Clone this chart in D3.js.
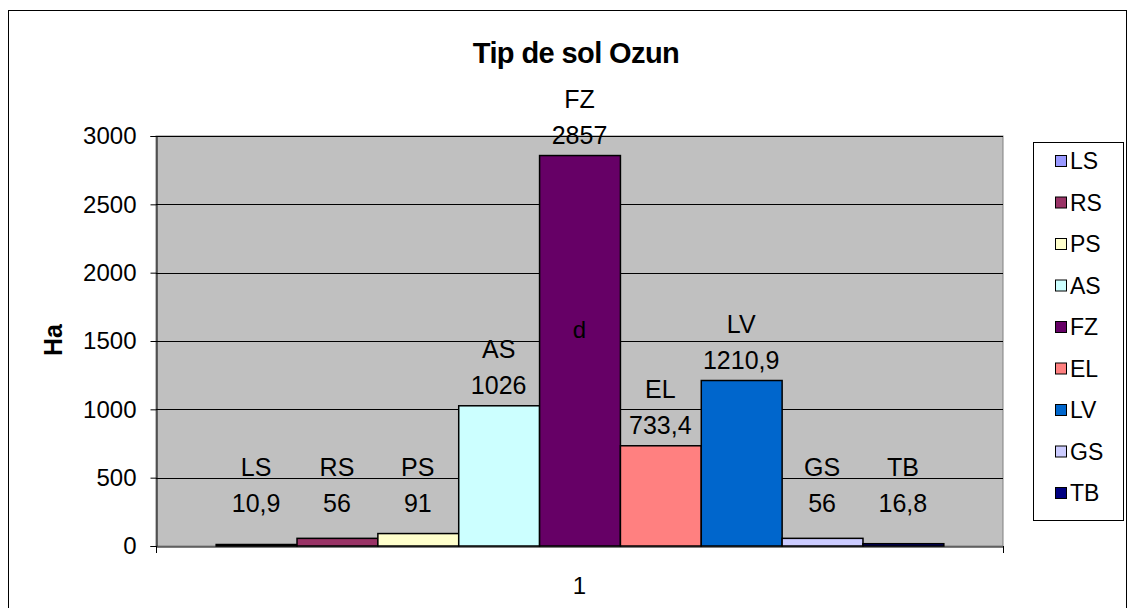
<!DOCTYPE html>
<html>
<head>
<meta charset="utf-8">
<script src="https://cdn.jsdelivr.net/npm/d3@7/dist/d3.min.js"></script>
<style>
  body { margin: 0; background: #fff; }
  svg { display: block; font-family: "Liberation Sans", Arial, sans-serif; }
</style>
</head>
<body>
<svg id="chart" width="1128" height="608"></svg>
<script>
// --- data ---
const categories = ["LS", "RS", "PS", "AS", "FZ", "EL", "LV", "GS", "TB"];
const values = [10.9, 56, 91, 1026, 2857, 733.4, 1210.9, 56, 16.8];
const valueLabels = ["10,9", "56", "91", "1026", "2857", "733,4", "1210,9", "56", "16,8"];
const colors = ["#9999FF", "#993366", "#FFFFCC", "#CCFFFF", "#660066", "#FF8080", "#0066CC", "#CCCCFF", "#000080"];
const yTicks = [0, 500, 1000, 1500, 2000, 2500, 3000];
const xCategory = ["1"];

// --- layout ---
const svg = d3.select("#chart");
const plot = { left: 156, right: 1003, top: 136, bottom: 546 };
const FONT = "'Liberation Sans', Arial, sans-serif";

svg.append("rect").attr("x", 8.5).attr("y", 10.5).attr("width", 1118).attr("height", 620)
  .attr("fill", "#fff").attr("stroke", "#000").attr("stroke-width", 1);

const y = d3.scaleLinear().domain([0, 3000]).range([plot.bottom, plot.top]);
const x0 = d3.scaleBand().domain(xCategory).range([plot.left, plot.right]).paddingInner(0).paddingOuter(0.082);
const x1 = d3.scaleBand().domain(categories).range([x0("1"), x0("1") + x0.bandwidth()]).padding(0);

// plot area
svg.append("rect").attr("x", plot.left).attr("y", plot.top)
  .attr("width", plot.right - plot.left).attr("height", plot.bottom - plot.top)
  .attr("fill", "#C0C0C0").attr("stroke", "#808080").attr("stroke-width", 1);

// gridlines
svg.append("g").selectAll("line").data(yTicks.filter(d => d > 0)).enter().append("line")
  .attr("x1", plot.left).attr("x2", plot.right)
  .attr("y1", d => Math.round(y(d)) + 0.5).attr("y2", d => Math.round(y(d)) + 0.5)
  .attr("stroke", "#000").attr("stroke-width", 1);

// y axis
const yAxis = svg.append("g").attr("transform", `translate(${plot.left + 0.5},0)`)
  .call(d3.axisLeft(y).tickValues(yTicks).tickSize(6).tickPadding(14).tickFormat(d3.format("d")));
yAxis.select(".domain").attr("stroke", "#000");
yAxis.selectAll("text").attr("font-size", "24px").attr("fill", "#000").attr("font-family", FONT);
yAxis.selectAll("line").attr("stroke", "#000");

// x axis
const xAxis = svg.append("g").attr("transform", `translate(0,${plot.bottom + 0.5})`)
  .call(d3.axisBottom(x0).tickSize(0).tickPadding(30));
xAxis.select(".domain").attr("stroke", "#000");
xAxis.selectAll("text").attr("font-size", "24px").attr("fill", "#000").attr("font-family", FONT);
[plot.left, plot.right].forEach(px => {
  svg.append("line").attr("x1", px + 0.5).attr("x2", px + 0.5)
    .attr("y1", plot.bottom).attr("y2", plot.bottom + 7).attr("stroke", "#000");
});

// bars
const rows = categories.map((c, i) => ({ c, v: values[i], lab: valueLabels[i], col: colors[i] }));
svg.append("g").selectAll("rect").data(rows).enter().append("rect")
  .attr("x", d => x1(d.c) + 0.5)
  .attr("y", d => y(d.v))
  .attr("width", x1.bandwidth())
  .attr("height", d => plot.bottom - y(d.v))
  .attr("fill", d => d.col).attr("stroke", "#000").attr("stroke-width", 1.5);

// data labels (name + value), baseline positions
const labY = d => Math.min(y(d.v) - 12, 512);
const lab = svg.append("g").attr("font-size", "25px").attr("text-anchor", "middle").attr("fill", "#000");
lab.selectAll(".nm").data(rows).enter().append("text")
  .attr("x", d => x1(d.c) + x1.bandwidth() / 2).attr("y", d => labY(d) - 36)
  .text(d => d.c);
lab.selectAll(".vl").data(rows).enter().append("text")
  .attr("x", d => x1(d.c) + x1.bandwidth() / 2).attr("y", d => labY(d))
  .text(d => d.lab);

// stray label inside FZ bar
svg.append("text").attr("x", x1("FZ") + x1.bandwidth() / 2).attr("y", 330).attr("dy", "0.35em")
  .attr("text-anchor", "middle").attr("font-size", "24px").attr("fill", "#000").text("d");

// title
svg.append("text").attr("x", 576).attr("y", 63).attr("text-anchor", "middle")
  .attr("font-size", "29px").attr("font-weight", "bold").attr("letter-spacing", "-0.6px").text("Tip de sol Ozun");

// y title
svg.append("text").attr("transform", "translate(53,340) rotate(-90)").attr("dy", "0.35em")
  .attr("text-anchor", "middle").attr("font-size", "25px").attr("font-weight", "bold").text("Ha");

// legend
const leg = svg.append("g");
leg.append("rect").attr("x", 1033.5).attr("y", 142.5).attr("width", 90).attr("height", 378)
  .attr("fill", "#fff").attr("stroke", "#000");
const legY = d3.scalePoint().domain(categories).range([161, 493]);
const li = leg.selectAll(".li").data(rows).enter().append("g")
  .attr("transform", d => `translate(1055,${legY(d.c)})`);
li.append("rect").attr("x", 0.5).attr("y", -5.5).attr("width", 11).attr("height", 11)
  .attr("fill", d => d.col).attr("stroke", "#000");
li.append("text").attr("x", 15).attr("dy", "0.35em").attr("font-size", "23px").text(d => d.c);
</script>
</body>
</html>
